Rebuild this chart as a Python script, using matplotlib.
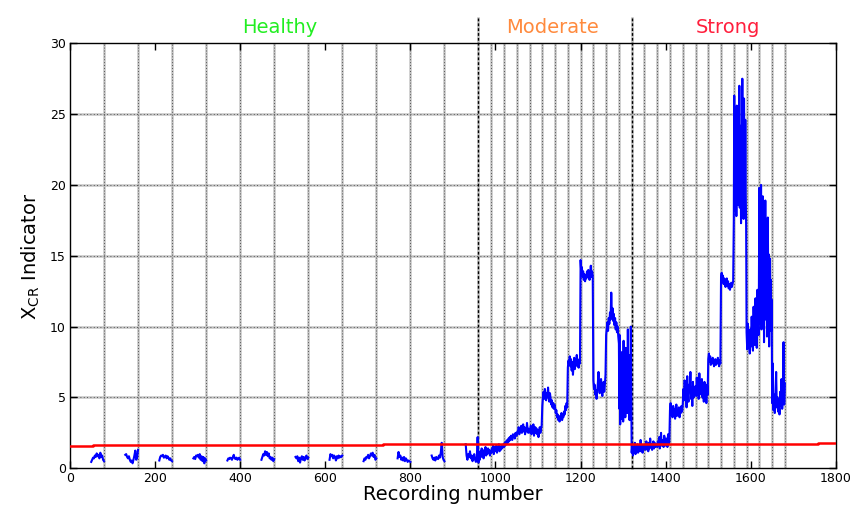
import numpy as np
import matplotlib
matplotlib.use("Agg")
import matplotlib.pyplot as plt
import matplotlib.transforms as mtransforms

# ---------------- data ----------------
# Healthy recordings: twelve blocks of 30 recordings, one per 80-recording window
healthy_starts = [50, 130, 210, 290, 370, 450, 530, 610, 690, 770, 850, 930]
healthy_block_len = 30
healthy_values = [
    [0.45, 0.6, 0.75, 0.7, 0.9, 0.8, 1.05, 0.85, 0.95, 0.7, 1.1, 0.8, 0.9, 0.6, 0.5],
    [0.95, 1.0, 0.8, 0.7, 0.85, 0.6, 0.45, 0.55, 0.35, 0.6, 0.9, 1.25, 0.6, 0.75, 1.3],
    [0.55, 0.8, 0.9, 0.85, 0.95, 0.75, 0.8, 0.9, 0.7, 0.85, 0.75, 0.6, 0.7, 0.55, 0.5],
    [0.7, 0.8, 0.65, 0.9, 0.85, 0.95, 0.75, 1.0, 0.6, 0.85, 0.5, 0.8, 0.35, 0.7, 0.55],
    [0.55, 0.7, 0.65, 0.75, 0.7, 0.6, 0.8, 0.95, 0.7, 0.65, 0.75, 0.6, 0.7, 0.75, 0.6],
    [0.6, 0.8, 1.0, 0.9, 1.2, 0.95, 1.15, 0.85, 1.05, 0.7, 0.8, 0.6, 0.75, 0.5, 0.65],
    [0.8, 0.7, 0.85, 0.5, 0.75, 0.4, 0.7, 0.85, 0.6, 0.8, 0.55, 0.75, 0.9, 0.65, 0.75],
    [0.6, 1.0, 0.85, 0.95, 0.7, 0.9, 0.8, 0.55, 0.85, 0.7, 0.9, 0.75, 0.85, 0.8, 0.9],
    [0.5, 0.7, 0.6, 0.8, 0.75, 0.95, 0.7, 0.85, 1.05, 0.9, 1.1, 0.8, 0.95, 0.6, 0.7],
    [0.7, 1.15, 0.8, 0.9, 0.6, 0.75, 0.55, 0.8, 0.5, 0.7, 0.6, 0.45, 0.55, 0.5, 0.45],
    [0.9, 0.7, 0.6, 0.75, 0.55, 0.8, 0.7, 0.65, 0.9, 0.75, 1.1, 1.8, 0.8, 0.6, 0.5],
    [1.7, 0.9, 0.6, 1.0, 0.8, 1.2, 0.7, 0.9, 0.5, 0.8, 1.0, 0.6, 0.45, 0.7, 2.2],
]

# Moderate (960-1320) and strong (1320-1680) damage: contiguous groups of 30
damage_edges = [960, 990, 1020, 1050, 1080, 1110, 1140, 1170, 1200, 1230, 1260, 1290,
                1320, 1350, 1380, 1410, 1440, 1470, 1500, 1530, 1560, 1590, 1620, 1650, 1680]
moderate_values = [
    [0.4, 0.9, 0.6, 1.2, 0.8, 1.4, 0.9, 1.1, 0.7, 1.3, 1.0, 1.5, 0.9, 1.2, 1.0, 1.4, 1.1, 1.3, 0.9, 1.2],
    [1.1, 1.4, 1.2, 1.6, 1.0, 1.5, 1.3, 1.2, 1.6, 1.1, 1.4, 1.3, 1.7, 1.2, 1.5, 1.3, 1.6, 1.4, 1.5, 1.7],
    [1.5, 1.8, 1.6, 1.9, 1.7, 2.0, 1.8, 2.1, 1.9, 2.2, 2.0, 2.3, 2.1, 2.0, 2.4, 2.2, 2.3, 2.1, 2.5, 2.3],
    [2.3, 2.6, 2.5, 2.9, 2.4, 2.8, 2.6, 3.0, 2.5, 2.7, 3.1, 2.6, 2.9, 2.4, 2.8, 2.6, 3.2, 2.7, 2.5, 2.8],
    [2.7, 2.5, 3.0, 2.4, 2.8, 2.6, 3.1, 2.3, 2.7, 2.9, 2.5, 2.8, 2.4, 2.7, 2.2, 2.6, 2.9, 2.5, 2.8, 3.0],
    [4.4, 5.0, 5.4, 4.9, 5.6, 5.2, 4.8, 5.3, 5.0, 5.7, 5.1, 4.7, 5.3, 4.9, 4.5, 4.8, 4.3, 4.6, 4.2, 4.5],
    [4.3, 3.9, 4.1, 3.6, 3.8, 3.4, 3.7, 3.3, 3.6, 3.5, 3.9, 3.4, 3.7, 3.6, 4.0, 3.8, 4.4, 4.1, 4.6, 4.3],
    [7.1, 7.6, 7.3, 7.9, 7.2, 7.7, 6.9, 7.5, 6.6, 7.3, 7.8, 7.0, 7.6, 7.4, 8.0, 7.2, 7.5, 7.1, 7.7, 7.4],
    [14.7, 13.8, 14.2, 13.5, 13.9, 13.3, 13.7, 13.2, 13.6, 13.4, 13.9, 13.5, 14.0, 13.6, 13.3, 13.8, 14.3, 13.5, 13.9, 13.6],
    [6.2, 5.6, 5.9, 5.2, 5.5, 4.9, 5.4, 6.0, 6.8, 5.7, 5.3, 5.8, 6.3, 5.6, 5.1, 5.7, 6.1, 5.4, 5.9, 6.6],
    [9.4, 9.9, 10.3, 9.7, 10.6, 10.2, 11.0, 10.5, 12.4, 10.8, 11.3, 10.4, 10.9, 10.1, 10.6, 9.8, 10.3, 9.6, 10.0, 9.3],
    [8.8, 4.2, 9.4, 3.1, 6.5, 7.8, 3.5, 8.2, 5.0, 6.9, 3.3, 9.0, 4.4, 7.5, 5.8, 3.6, 8.5, 4.8, 6.2, 7.0,
     3.9, 9.8, 5.5, 4.1, 7.3, 3.4, 8.0, 5.2, 10.0, 6.0],
]
strong_values = [
    [1.1, 1.6, 0.9, 1.4, 1.2, 1.8, 1.0, 1.5, 1.3, 1.7, 1.1, 1.4, 1.6, 1.2, 2.0, 1.3, 1.5, 1.1, 1.6, 1.4],
    [1.4, 1.7, 1.3, 1.9, 1.5, 1.6, 1.2, 1.8, 1.4, 2.1, 1.5, 1.7, 1.3, 1.6, 1.9, 1.4, 1.8, 1.5, 1.7, 1.6],
    [1.5, 1.9, 1.6, 2.2, 1.4, 1.8, 2.5, 1.6, 2.0, 1.7, 1.5, 2.3, 1.8, 1.6, 2.1, 1.9, 1.5, 2.4, 1.7, 1.9],
    [4.1, 4.6, 3.8, 4.3, 3.6, 4.4, 3.9, 4.2, 3.5, 4.0, 4.5, 3.7, 4.1, 3.8, 4.3, 3.6, 4.0, 3.9, 4.4, 4.0],
    [4.5, 5.6, 4.8, 6.2, 5.0, 5.8, 4.3, 6.5, 5.2, 4.7, 5.9, 5.4, 6.8, 4.9, 5.5, 4.4, 6.1, 5.0, 5.7, 5.3],
    [5.8, 5.1, 6.4, 5.4, 6.0, 4.9, 6.7, 5.5, 5.9, 5.2, 6.3, 5.0, 5.7, 4.7, 6.1, 5.3, 5.6, 4.6, 5.9, 5.2],
    [7.7, 8.1, 7.5, 7.9, 7.3, 7.7, 7.4, 7.8, 7.6, 7.2, 7.5, 7.7, 7.3, 7.6, 7.4, 7.8, 7.5, 7.2, 7.6, 7.4],
    [13.5, 13.8, 13.2, 13.6, 13.0, 13.4, 13.3, 12.8, 13.1, 13.4, 12.9, 13.2, 12.7, 13.0, 12.6, 12.9, 13.1, 12.8, 13.0, 13.2],
    [17.5, 26.3, 18.2, 24.8, 19.5, 22.1, 17.8, 25.6, 20.3, 23.4, 18.6, 21.7, 19.1, 27.0, 18.4, 22.8, 20.6, 17.3, 24.2, 19.8,
     27.5, 18.9, 23.1, 17.6, 26.1, 21.2, 18.1, 24.6, 19.4, 17.0],
    [9.6, 8.4, 10.2, 8.9, 9.3, 8.1, 9.8, 8.6, 10.7, 9.0, 8.3, 11.4, 9.2, 8.7, 12.0, 9.5, 8.5, 12.6, 10.1, 9.4],
    [19.8, 10.2, 18.5, 12.4, 20.0, 9.8, 16.3, 13.1, 19.2, 11.6, 17.4, 8.9, 15.8, 12.7, 18.9, 10.5, 14.2, 16.8, 9.3, 13.6,
     17.7, 11.2, 15.1, 8.6, 12.9, 14.8, 10.4, 13.3, 9.7, 11.9],
    [4.6, 7.4, 4.1, 5.2, 3.9, 4.8, 6.8, 4.3, 5.0, 4.0, 4.7, 3.8, 5.4, 4.4, 6.3, 4.2, 5.1, 8.9, 4.5, 6.0],
]

# Detection threshold (piecewise constant)
threshold_edges = [0, 55, 400, 736, 1414, 1758, 1800]
threshold_values = [1.58, 1.63, 1.66, 1.69, 1.72, 1.76]

# Healthy windows, moderate groups and strong groups are separated by these lines
healthy_window_ends = [80, 160, 240, 320, 400, 480, 560, 640, 720, 800, 880]
class_borders = [960, 1320]

class_labels = ["Healthy", "Moderate", "Strong"]
class_label_x = [494, 1135, 1547]
class_colors = ["#22ee22", "#ff8a3d", "#ff1f3d"]

x_ticks = [0, 200, 400, 600, 800, 1000, 1200, 1400, 1600, 1800]
y_ticks = [0, 5, 10, 15, 20, 25, 30]

# ---------------- figure ----------------
fig = plt.figure(figsize=(8.53, 5.11), dpi=100)
ax = fig.add_axes([0.082, 0.0836, 0.898, 0.8317])
ax.set_xlim(0, 1800)
ax.set_ylim(0, 30)


def grid_line(ax, orient, pos, dark=False):
    if orient == "v":
        if dark:
            trans = mtransforms.blended_transform_factory(ax.transData, ax.transAxes)
            ax.plot([pos, pos], [0, 1.06], transform=trans, color="#bdbdbd", lw=1.8,
                    clip_on=False, zorder=1)
            ax.plot([pos, pos], [0, 1.06], transform=trans, color="black", lw=1.0,
                    ls=(0, (2, 1.5)), clip_on=False, zorder=1.1)
        else:
            ax.axvline(pos, color="#c4c4c4", lw=1.8, zorder=1)
            ax.axvline(pos, color="#333333", lw=0.6, ls=(0, (1, 2.5)), zorder=1.1)
    else:
        ax.axhline(pos, color="#c4c4c4", lw=1.8, zorder=1)
        ax.axhline(pos, color="#333333", lw=0.6, ls=(0, (1, 3)), zorder=1.1)


for y in y_ticks[1:-1]:
    grid_line(ax, "h", y)
for x in healthy_window_ends + damage_edges[1:12] + damage_edges[13:]:
    grid_line(ax, "v", x)
for x in class_borders:
    grid_line(ax, "v", x, dark=True)

# Healthy blocks (separate segments); the last one joins the damage record
blue = "#0000ff"
lw_data = 1.5
for start, vals in zip(healthy_starts[:-1], healthy_values[:-1]):
    xs = np.linspace(start, start + healthy_block_len, len(vals))
    ax.plot(xs, vals, color=blue, lw=lw_data, zorder=3)

xs_all = [np.linspace(healthy_starts[-1], healthy_starts[-1] + healthy_block_len,
                      len(healthy_values[-1]), endpoint=False)]
ys_all = [np.asarray(healthy_values[-1])]
for i, vals in enumerate(moderate_values + strong_values):
    last = i == len(moderate_values) + len(strong_values) - 1
    xs_all.append(np.linspace(damage_edges[i], damage_edges[i + 1], len(vals), endpoint=last))
    ys_all.append(np.asarray(vals))
ax.plot(np.concatenate(xs_all), np.concatenate(ys_all), color=blue, lw=lw_data, zorder=3)

# Threshold
ax.plot(threshold_edges, threshold_values + [threshold_values[-1]],
        drawstyle="steps-post", color="#ff0000", lw=1.8, zorder=4)

# Class labels above the plot
trans = mtransforms.blended_transform_factory(ax.transData, ax.transAxes)
for lab, x, c in zip(class_labels, class_label_x, class_colors):
    ax.text(x, 1.015, lab, transform=trans, color=c, fontsize=14,
            ha="center", va="bottom")

ax.set_xticks(x_ticks)
ax.set_yticks(y_ticks)
ax.tick_params(direction="in", length=5, width=1, top=True, right=True,
               labelsize=9, pad=3)
for s in ax.spines.values():
    s.set_linewidth(1.0)
ax.set_xlabel("Recording number", fontsize=14, labelpad=0)
ax.set_ylabel(r"X$_{\mathrm{CR}}$ Indicator", fontsize=14, labelpad=6)

fig.savefig("out.png", dpi=100)
